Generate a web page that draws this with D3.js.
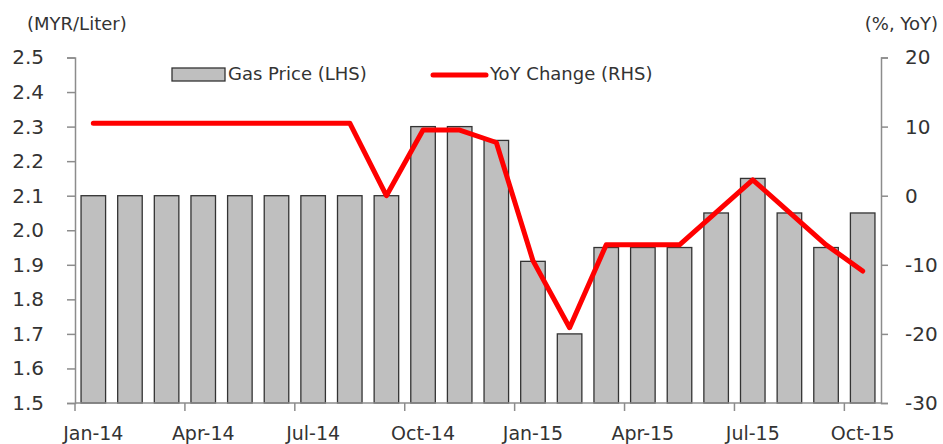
<!doctype html>
<html>
<head>
<meta charset="utf-8">
<script src="https://cdn.jsdelivr.net/npm/d3@7"></script>
<style>
  body { margin: 0; background: #fff; }
  text { font-family: "DejaVu Sans", Verdana, sans-serif; fill: #333; }
</style>
</head>
<body>
<script>

// months Jan-14 .. Oct-15
var months = ["Jan-14","Feb-14","Mar-14","Apr-14","May-14","Jun-14","Jul-14","Aug-14","Sep-14",
              "Oct-14","Nov-14","Dec-14","Jan-15","Feb-15","Mar-15","Apr-15","May-15","Jun-15",
              "Jul-15","Aug-15","Sep-15","Oct-15"];
var gasPrice = [2.1,2.1,2.1,2.1,2.1,2.1,2.1,2.1,2.1,
                2.3,2.3,2.26,1.91,1.7,1.95,1.95,1.95,2.05,
                2.15,2.05,1.95,2.05];
var yoyChange = [10.5,10.5,10.5,10.5,10.5,10.5,10.5,10.5,0,
                 9.5,9.5,7.7,-9.4,-19.1,-7.1,-7.1,-7.1,-2.4,
                 2.3,-2.4,-7.1,-10.9];
var leftTicks = [1.5,1.6,1.7,1.8,1.9,2.0,2.1,2.2,2.3,2.4,2.5];
var rightTicks = [-30,-20,-10,0,10,20];

var w = 943, h = 444;
var mLeft = 75, mRight = 881, mTop = 57.5, mBottom = 403;

var svg = d3.select("body").append("svg").attr("width", w).attr("height", h);

var x = d3.scaleBand().domain(months).range([mLeft, mRight]).paddingInner(0.33).paddingOuter(0.165);
var yL = d3.scaleLinear().domain([1.5, 2.5]).range([mBottom, mTop]);
var yR = d3.scaleLinear().domain([-30, 20]).range([mBottom, mTop]);

// title, mostly cut off at the top
svg.append("text").attr("x", 498).attr("y", -5).style("font-size", "30px")
   .style("font-weight", "bold").style("fill", "#000").text("(");
svg.append("text").attr("x", 673).attr("y", -5).style("font-size", "30px")
   .style("font-weight", "bold").style("fill", "#000").text(")");

// bars
svg.selectAll("rect.bar")
   .data(gasPrice)
   .enter()
   .append("rect")
     .attr("class", "bar")
     .attr("x", function(d,i){ return x(months[i]); })
     .attr("width", x.bandwidth())
     .attr("y", function(d){ return yL(d); })
     .attr("height", function(d){ return yL(1.5) - yL(d); })
     .attr("fill", "#bfbfbf")
     .attr("stroke", "#333")
     .attr("stroke-width", 1.3);

// axes
var axisColor = "#8c8c8c";
var gl = svg.append("g").attr("transform", "translate(" + mLeft + ",0)")
  .call(d3.axisLeft(yL).tickValues(leftTicks).tickSize(8).tickPadding(23).tickFormat(d3.format(".1f")));
var gr = svg.append("g").attr("transform", "translate(" + mRight + ",0)")
  .call(d3.axisRight(yR).tickValues(rightTicks).tickSize(7).tickPadding(16)
    .tickFormat(function(d){ return String(d); }));

// x axis: ticks every 3 months at category boundaries, labels centered on bars
var step = x.step();
var gx = svg.append("g");
gx.append("line").attr("x1", mLeft).attr("x2", mRight).attr("y1", mBottom).attr("y2", mBottom);
gx.selectAll("line.tk")
  .data(months.filter(function(d,i){ return i % 3 == 0; }))
  .enter()
  .append("line")
    .attr("class", "tk")
    .attr("x1", function(d){ return x(d) - step*0.165; })
    .attr("x2", function(d){ return x(d) - step*0.165; })
    .attr("y1", mBottom).attr("y2", mBottom + 8);
gx.selectAll("text")
  .data(months.filter(function(d,i){ return i % 3 == 0; }))
  .enter()
  .append("text")
    .attr("x", function(d){ return x(d) + x.bandwidth()/2; })
    .attr("y", 440)
    .attr("text-anchor", "middle")
    .style("font-size", "19px")
    .text(function(d){ return d; });

[gl, gr].forEach(function(g){
  g.select(".domain").attr("stroke", axisColor).attr("stroke-width", 1.5);
  g.selectAll(".tick line").attr("stroke", axisColor).attr("stroke-width", 1.5);
  g.selectAll(".tick text").style("font-size", "20px").style("font-family", "DejaVu Sans").attr("fill", "#333");
});
gr.selectAll(".tick text").attr("x", 24);
gx.selectAll("line").attr("stroke", axisColor).attr("stroke-width", 1.5);

// YoY line
var line = d3.line()
  .x(function(d,i){ return x(months[i]) + x.bandwidth()/2; })
  .y(function(d){ return yR(d); });
svg.append("path")
   .datum(yoyChange)
   .attr("d", line)
   .attr("fill", "none")
   .attr("stroke", "#ff0000")
   .attr("stroke-width", 5)
   .attr("stroke-linejoin", "round")
   .attr("stroke-linecap", "round");

// axis titles
svg.append("text").attr("x", 27).attr("y", 30).style("font-size", "18px").text("(MYR/Liter)");
svg.append("text").attr("x", 938).attr("y", 30).attr("text-anchor", "end").style("font-size", "18px").text("(%, YoY)");

// legend
var lg = svg.append("g");
lg.append("rect").attr("x", 172).attr("y", 68).attr("width", 53).attr("height", 13)
  .attr("fill", "#bfbfbf").attr("stroke", "#333").attr("stroke-width", 1.3);
lg.append("text").attr("x", 228).attr("y", 80).style("font-size", "18px").text("Gas Price (LHS)");
lg.append("line").attr("x1", 433).attr("x2", 486).attr("y1", 75).attr("y2", 75)
  .attr("stroke", "#ff0000").attr("stroke-width", 5).attr("stroke-linecap", "round");
lg.append("text").attr("x", 490).attr("y", 80).style("font-size", "18px").text("YoY Change (RHS)");

</script>
</body>
</html>
